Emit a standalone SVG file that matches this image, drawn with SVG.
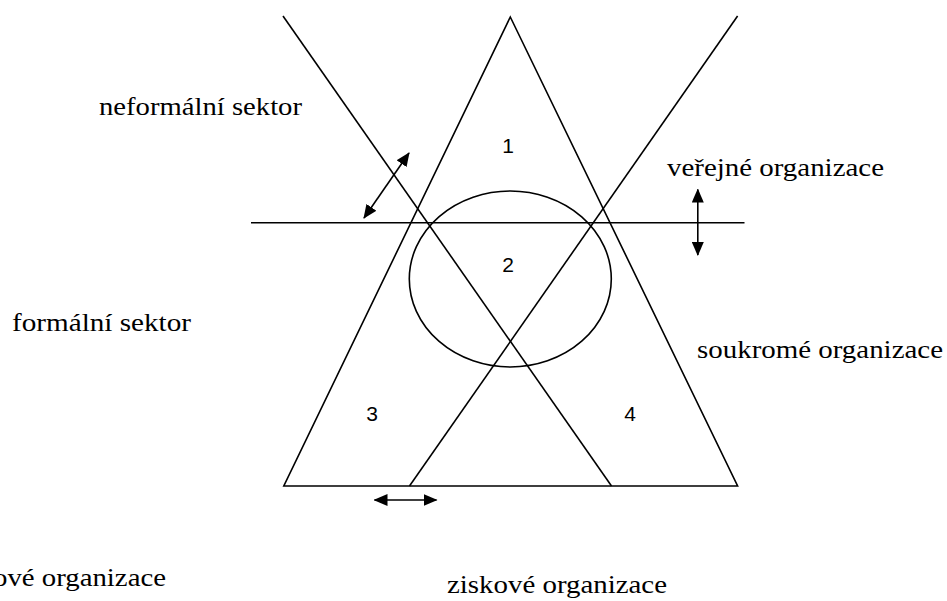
<svg xmlns="http://www.w3.org/2000/svg" width="947" height="601" viewBox="0 0 947 601">
<style>
.ln{fill:none;stroke:#000;stroke-width:1.6}
.num{font-size:21px;text-anchor:middle;fill:#000}
.lbl{font-size:26px;fill:#000}
</style>
<defs>
<marker id="ah" viewBox="0 0 14 12" refX="13" refY="6" markerWidth="14" markerHeight="12" markerUnits="userSpaceOnUse" orient="auto-start-reverse">
<path d="M0,0 L14,6 L0,12 Z" fill="#000"/>
</marker>
</defs>
<rect width="947" height="601" fill="#fff"/>
<g id="shapes">
<polygon id="triangle" class="ln" points="510.3,17 737.6,486 283.8,486"/>
<line id="diag-left" class="ln" x1="283" y1="16" x2="611.5" y2="486"/>
<line id="diag-right" class="ln" x1="737.6" y1="16" x2="409.5" y2="486"/>
<line id="horizontal" class="ln" x1="251" y1="222.7" x2="744.5" y2="222.7"/>
<ellipse id="circle" class="ln" cx="510.3" cy="279" rx="101" ry="88"/>
</g>
<g id="connectors">
<line class="ln" x1="364" y1="218" x2="409" y2="153" marker-start="url(#ah)" marker-end="url(#ah)"/>
<line class="ln" x1="697.8" y1="189.5" x2="697.8" y2="255" marker-start="url(#ah)" marker-end="url(#ah)"/>
<line class="ln" x1="374.5" y1="500" x2="436.5" y2="500" marker-start="url(#ah)" marker-end="url(#ah)"/>
</g>
<g id="numbers" style="font-family:'Liberation Sans',sans-serif">
<text class="num" x="508" y="153">1</text>
<text class="num" x="508" y="272">2</text>
<text class="num" x="372" y="421">3</text>
<text class="num" x="630" y="421">4</text>
</g>
<g id="labels" style="font-family:'Liberation Serif','Times New Roman',serif">
<text id="neformalni" class="lbl" x="99" y="115" textLength="203" lengthAdjust="spacingAndGlyphs">neformální sektor</text>
<text id="formalni" class="lbl" x="12" y="331" textLength="179" lengthAdjust="spacingAndGlyphs">formální sektor</text>
<text id="verejne" class="lbl" x="667" y="176" textLength="217" lengthAdjust="spacingAndGlyphs">veřejné organizace</text>
<text id="soukrome" class="lbl" x="697" y="358" textLength="246" lengthAdjust="spacingAndGlyphs">soukromé organizace</text>
<text id="neziskove" class="lbl" x="-7" y="586" textLength="173" lengthAdjust="spacingAndGlyphs">ové organizace</text>
<text id="ziskove" class="lbl" x="447" y="593" textLength="220" lengthAdjust="spacingAndGlyphs">ziskové organizace</text>
</g>
</svg>
